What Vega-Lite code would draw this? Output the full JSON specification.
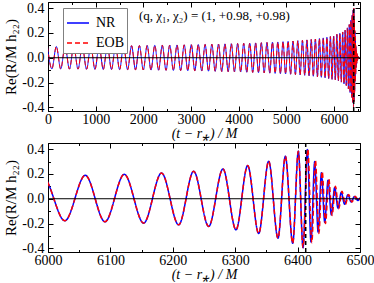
{
"$schema":"https://vega.github.io/schema/vega-lite/v6.json",
"background":"white",
"padding":{"left":3,"top":0,"right":0,"bottom":0},
"config":{
 "font":"Liberation Serif",
 "view":{"stroke":"black","strokeWidth":1},
 "axis":{"domainColor":"black","tickColor":"black","labelColor":"black","titleColor":"black","labelFont":"Liberation Serif","titleFont":"Liberation Serif","labelFontSize":14,"titleFontSize":15,"titleFontWeight":"normal","grid":false,"tickSize":-5,"tickWidth":1,"domainWidth":1,"labelPadding":9,"labelFlush":false},
 "axisX":{"labelPadding":6,"titleFontSize":14},
 "legend":{"orient":"none","legendX":15,"legendY":6,"strokeColor":"#808080","fillColor":"white","padding":3,"symbolType":"M-1,0H1","symbolSize":484,"symbolStrokeWidth":1.5,"labelFont":"Liberation Serif","labelFontSize":14,"labelColor":"black","rowPadding":1,"labelOffset":6}
},
"data":{"values":[
{"t":-11.3,"NR":0.09,"EOB":0.09},{"t":81.8,"NR":-0.0902,"EOB":-0.0902},{"t":174.6,"NR":0.0906,"EOB":0.0906},{"t":266.7,"NR":-0.0909,"EOB":-0.0909},{"t":358.4,"NR":0.0913,"EOB":0.0913},{"t":449.6,"NR":-0.0916,"EOB":-0.0916},{"t":540.2,"NR":0.092,"EOB":0.092},{"t":630.2,"NR":-0.0923,"EOB":-0.0923},{"t":719.8,"NR":0.0927,"EOB":0.0927},{"t":808.8,"NR":-0.093,"EOB":-0.093},
{"t":897.4,"NR":0.0934,"EOB":0.0934},{"t":985.3,"NR":-0.0938,"EOB":-0.0938},{"t":1072.8,"NR":0.0942,"EOB":0.0942},{"t":1159.7,"NR":-0.0946,"EOB":-0.0946},{"t":1246.0,"NR":0.0949,"EOB":0.0949},{"t":1331.9,"NR":-0.0953,"EOB":-0.0953},{"t":1417.3,"NR":0.0957,"EOB":0.0957},{"t":1502.0,"NR":-0.0962,"EOB":-0.0962},{"t":1586.2,"NR":0.0966,"EOB":0.0966},{"t":1669.9,"NR":-0.097,"EOB":-0.097},
{"t":1753.1,"NR":0.0974,"EOB":0.0974},{"t":1835.6,"NR":-0.0979,"EOB":-0.0979},{"t":1917.6,"NR":0.0983,"EOB":0.0983},{"t":1999.1,"NR":-0.0988,"EOB":-0.0988},{"t":2080.0,"NR":0.0992,"EOB":0.0992},{"t":2160.3,"NR":-0.0997,"EOB":-0.0997},{"t":2240.1,"NR":0.1002,"EOB":0.1002},{"t":2319.3,"NR":-0.1006,"EOB":-0.1006},{"t":2397.9,"NR":0.1011,"EOB":0.1011},{"t":2476.0,"NR":-0.1016,"EOB":-0.1016},
{"t":2553.4,"NR":0.1021,"EOB":0.1021},{"t":2630.3,"NR":-0.1026,"EOB":-0.1026},{"t":2706.7,"NR":0.1032,"EOB":0.1032},{"t":2782.4,"NR":-0.1037,"EOB":-0.1037},{"t":2857.6,"NR":0.1042,"EOB":0.1042},{"t":2932.1,"NR":-0.1048,"EOB":-0.1048},{"t":3006.1,"NR":0.1054,"EOB":0.1054},{"t":3079.5,"NR":-0.1059,"EOB":-0.1059},{"t":3152.2,"NR":0.1065,"EOB":0.1065},{"t":3224.4,"NR":-0.1071,"EOB":-0.1071},
{"t":3295.9,"NR":0.1077,"EOB":0.1077},{"t":3366.9,"NR":-0.1084,"EOB":-0.1084},{"t":3437.2,"NR":0.109,"EOB":0.109},{"t":3506.9,"NR":-0.1096,"EOB":-0.1096},{"t":3576.0,"NR":0.1103,"EOB":0.1103},{"t":3644.5,"NR":-0.111,"EOB":-0.111},{"t":3712.3,"NR":0.1117,"EOB":0.1117},{"t":3779.5,"NR":-0.1124,"EOB":-0.1124},{"t":3846.1,"NR":0.1131,"EOB":0.1131},{"t":3912.0,"NR":-0.1138,"EOB":-0.1138},
{"t":3977.3,"NR":0.1146,"EOB":0.1146},{"t":4041.9,"NR":-0.1154,"EOB":-0.1154},{"t":4105.9,"NR":0.1161,"EOB":0.1161},{"t":4169.2,"NR":-0.117,"EOB":-0.117},{"t":4231.9,"NR":0.1178,"EOB":0.1178},{"t":4293.9,"NR":-0.1186,"EOB":-0.1186},{"t":4355.2,"NR":0.1195,"EOB":0.1195},{"t":4415.8,"NR":-0.1204,"EOB":-0.1204},{"t":4475.8,"NR":0.1213,"EOB":0.1213},{"t":4535.0,"NR":-0.1223,"EOB":-0.1223},
{"t":4593.6,"NR":0.1233,"EOB":0.1233},{"t":4651.5,"NR":-0.1243,"EOB":-0.1243},{"t":4708.6,"NR":0.1253,"EOB":0.1253},{"t":4765.1,"NR":-0.1263,"EOB":-0.1263},{"t":4820.8,"NR":0.1274,"EOB":0.1274},{"t":4875.8,"NR":-0.1286,"EOB":-0.1286},{"t":4930.1,"NR":0.1297,"EOB":0.1297},{"t":4983.7,"NR":-0.1309,"EOB":-0.1309},{"t":5036.5,"NR":0.1322,"EOB":0.1322},{"t":5088.6,"NR":-0.1334,"EOB":-0.1334},
{"t":5139.8,"NR":0.1348,"EOB":0.1348},{"t":5190.4,"NR":-0.1361,"EOB":-0.1361},{"t":5240.2,"NR":0.1376,"EOB":0.1376},{"t":5289.2,"NR":-0.139,"EOB":-0.139},{"t":5337.4,"NR":0.1406,"EOB":0.1406},{"t":5384.8,"NR":-0.1422,"EOB":-0.1422},{"t":5431.4,"NR":0.1438,"EOB":0.1438},{"t":5477.1,"NR":-0.1455,"EOB":-0.1455},{"t":5522.1,"NR":0.1473,"EOB":0.1473},{"t":5566.2,"NR":-0.1492,"EOB":-0.1492},
{"t":5609.5,"NR":0.1512,"EOB":0.1512},{"t":5651.9,"NR":-0.1533,"EOB":-0.1533},{"t":5693.5,"NR":0.1554,"EOB":0.1554},{"t":5734.2,"NR":-0.1577,"EOB":-0.1577},{"t":5773.9,"NR":0.1601,"EOB":0.1601},{"t":5812.8,"NR":-0.1626,"EOB":-0.1626},{"t":5850.8,"NR":0.1653,"EOB":0.1653},{"t":5887.8,"NR":-0.1682,"EOB":-0.1682},{"t":5923.8,"NR":0.1712,"EOB":0.1712},{"t":5958.9,"NR":-0.1744,"EOB":-0.1744},
{"t":5992,"NR":0.175,"EOB":0.175},{"t":6027,"NR":-0.178,"EOB":-0.178},{"t":6059.8,"NR":0.189,"EOB":0.189},{"t":6091.3,"NR":-0.186,"EOB":-0.186},{"t":6122.3,"NR":0.197,"EOB":0.197},{"t":6153.3,"NR":-0.197,"EOB":-0.197},{"t":6182,"NR":0.208,"EOB":0.208},{"t":6209.4,"NR":-0.211,"EOB":-0.211},{"t":6233.4,"NR":0.222,"EOB":0.222},{"t":6257.5,"NR":-0.224,"EOB":-0.224},
{"t":6280.4,"NR":0.241,"EOB":0.241},{"t":6301.3,"NR":-0.251,"EOB":-0.251},{"t":6320,"NR":0.268,"EOB":0.268},{"t":6337.6,"NR":-0.281,"EOB":-0.281},{"t":6353.7,"NR":0.303,"EOB":0.303},{"t":6368.6,"NR":-0.319,"EOB":-0.319},{"t":6380.4,"NR":0.343,"EOB":0.343},{"t":6392.2,"NR":-0.36,"EOB":-0.36},{"t":6401.2,"NR":0.384,"EOB":0.384},{"t":6408.7,"NR":-0.395,"EOB":-0.395},
{"t":6415.6,"NR":0.397},{"t":6421.5,"NR":-0.35},{"t":6427.4,"NR":0.3},{"t":6432.9,"NR":-0.27},{"t":6438.2,"NR":0.21},{"t":6443.5,"NR":-0.19},{"t":6448.8,"NR":0.15},{"t":6454.1,"NR":-0.13},{"t":6459.4,"NR":0.09},{"t":6464.7,"NR":-0.076},{"t":6470,"NR":0.052},{"t":6475.3,"NR":-0.045},{"t":6480.6,"NR":0.032},{"t":6485.9,"NR":-0.026},{"t":6491.2,"NR":0.019},{"t":6496.5,"NR":-0.015},{"t":6501.8,"NR":0.011},{"t":6507,"NR":-0.008},{"t":6512,"NR":0.005},{"t":6525,"NR":0},
{"t":6416.4,"EOB":0.4},{"t":6422.7,"EOB":-0.355},{"t":6428.6,"EOB":0.31},{"t":6434.1,"EOB":-0.28},{"t":6439.4,"EOB":0.22},{"t":6444.7,"EOB":-0.2},{"t":6450,"EOB":0.16},{"t":6455.3,"EOB":-0.135},{"t":6460.6,"EOB":0.1},{"t":6465.9,"EOB":-0.08},{"t":6471.2,"EOB":0.06},{"t":6476.5,"EOB":-0.046},{"t":6481.8,"EOB":0.034},{"t":6487.1,"EOB":-0.027},{"t":6492.4,"EOB":0.02},{"t":6497.7,"EOB":-0.015},{"t":6503,"EOB":0.011},{"t":6508.2,"EOB":-0.008},{"t":6513.2,"EOB":0.005},{"t":6526,"EOB":0}
]},
"transform":[{"fold":["NR","EOB"],"as":["s","h"]},{"filter":"isValid(datum.h)"}],
"spacing":0,
"vconcat":[
{"width":312,"height":109,
 "layer":[
  {"mark":{"type":"line","interpolate":"monotone","strokeWidth":1,"clip":true},
   "encoding":{
    "x":{"field":"t","type":"quantitative","scale":{"domain":[0,6545],"nice":false,"zero":false},
     "axis":{"orient":"bottom","values":[0,500,1000,1500,2000,2500,3000,3500,4000,4500,5000,5500,6000,6500],"format":"d","labelExpr":"datum.value % 1000 == 0 ? datum.label : ''","tickDash":{"condition":{"test":"datum.value % 1000 != 0","value":[2.5,20]},"value":[]},"title":"(t − r⁎) / M","titleFontStyle":"italic","titlePadding":0}},
    "y":{"field":"h","type":"quantitative","scale":{"domain":[-0.43,0.45],"nice":false,"zero":false},
     "axis":{"orient":"left","values":[-0.4,-0.3,-0.2,-0.1,0,0.1,0.2,0.3,0.4],"labelExpr":"abs(round(datum.value*10)) % 2 == 0 ? replace(format(datum.value, '.1f'), '−', '-') : ''","tickDash":{"condition":{"test":"abs(round(datum.value*10)) % 2 == 1","value":[2.5,20]},"value":[]},"title":"Re(R/M h₂₂)","titlePadding":3}},
    "color":{"field":"s","type":"nominal","scale":{"domain":["NR","EOB"],"range":["#0000ff","#ff0000"]},"legend":{"title":null}},
    "strokeDash":{"field":"s","type":"nominal","scale":{"domain":["NR","EOB"],"range":[[1,0],[5,3]]},"legend":{"title":null}}
   }},
  {"data":{"values":[{}]},"mark":{"type":"rule","color":"black","strokeWidth":1},
   "encoding":{"y":{"datum":0,"type":"quantitative","axis":{"orient":"right","values":[-0.4,-0.3,-0.2,-0.1,0,0.1,0.2,0.3,0.4],"labels":false,"title":null,"tickDash":{"condition":{"test":"abs(round(datum.value*10)) % 2 == 1","value":[2.5,20]},"value":[]}}}}},
  {"data":{"values":[{}]},"mark":{"type":"rule","color":"black","strokeWidth":1.5,"strokeDash":[4,3]},
   "encoding":{"x":{"datum":6413,"type":"quantitative","axis":{"orient":"top","values":[0,500,1000,1500,2000,2500,3000,3500,4000,4500,5000,5500,6000,6500],"labels":false,"title":null,"tickDash":{"condition":{"test":"datum.value % 1000 != 0","value":[2.5,20]},"value":[]}}}}},
  {"data":{"values":[{}]},"mark":{"type":"text","align":"left","baseline":"middle","font":"Liberation Serif","fontSize":13,"color":"black"},
   "encoding":{"x":{"datum":1907,"type":"quantitative","axis":null},"y":{"datum":0.338,"type":"quantitative","axis":null},"text":{"value":"(q, χ₁, χ₂) = (1, +0.98, +0.98)"}}}
 ]},
{"width":312,"height":109,
 "layer":[
  {"transform":[{"filter":"datum.t >= 5950"}],
   "mark":{"type":"line","interpolate":"monotone","strokeWidth":1.5,"clip":true},
   "encoding":{
    "x":{"field":"t","type":"quantitative","scale":{"domain":[6000,6500],"nice":false,"zero":false},
     "axis":{"orient":"bottom","values":[6000,6050,6100,6150,6200,6250,6300,6350,6400,6450,6500],"format":"d","labelExpr":"datum.value % 100 == 0 ? datum.label : ''","tickDash":{"condition":{"test":"datum.value % 100 != 0","value":[2.5,20]},"value":[]},"title":"(t − r⁎) / M","titleFontStyle":"italic","titlePadding":0}},
    "y":{"field":"h","type":"quantitative","scale":{"domain":[-0.43,0.45],"nice":false,"zero":false},
     "axis":{"orient":"left","values":[-0.4,-0.3,-0.2,-0.1,0,0.1,0.2,0.3,0.4],"labelExpr":"abs(round(datum.value*10)) % 2 == 0 ? replace(format(datum.value, '.1f'), '−', '-') : ''","tickDash":{"condition":{"test":"abs(round(datum.value*10)) % 2 == 1","value":[2.5,20]},"value":[]},"title":"Re(R/M h₂₂)","titlePadding":3}},
    "color":{"field":"s","type":"nominal","legend":null},
    "strokeDash":{"field":"s","type":"nominal","legend":null}
   }},
  {"data":{"values":[{}]},"mark":{"type":"rule","color":"black","strokeWidth":1},
   "encoding":{"y":{"datum":0,"type":"quantitative","axis":{"orient":"right","values":[-0.4,-0.3,-0.2,-0.1,0,0.1,0.2,0.3,0.4],"labels":false,"title":null,"tickDash":{"condition":{"test":"abs(round(datum.value*10)) % 2 == 1","value":[2.5,20]},"value":[]}}}}},
  {"data":{"values":[{}]},"mark":{"type":"rule","color":"black","strokeWidth":1.5,"strokeDash":[4,3]},
   "encoding":{"x":{"datum":6413,"type":"quantitative","axis":{"orient":"top","values":[6000,6050,6100,6150,6200,6250,6300,6350,6400,6450,6500],"labels":false,"title":null,"tickDash":{"condition":{"test":"datum.value % 100 != 0","value":[2.5,20]},"value":[]}}}}}
 ]}
]
}
